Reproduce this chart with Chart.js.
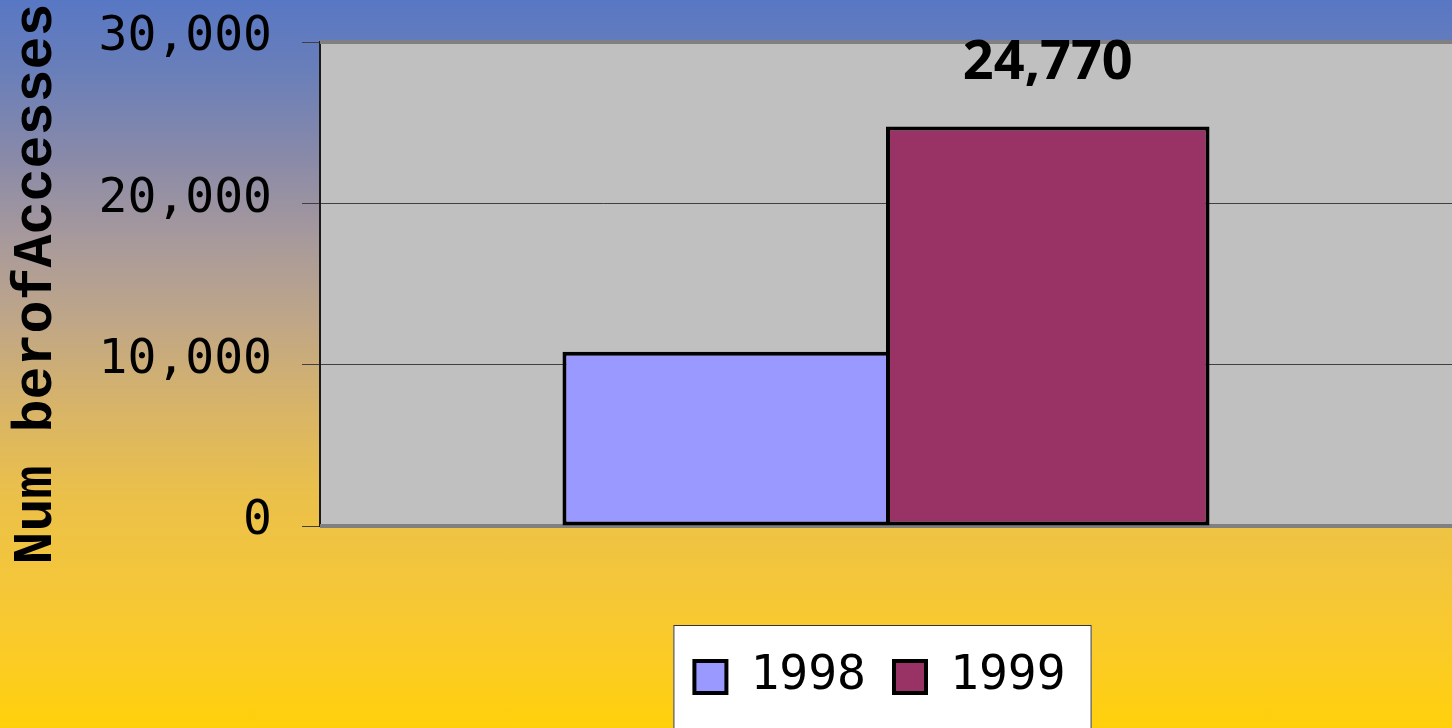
<!DOCTYPE html>
<html>
<head>
<meta charset="utf-8">
<title>Number of Accesses</title>
<script src="https://cdn.jsdelivr.net/npm/chart.js@4.4.1/dist/chart.umd.min.js"></script>
<style>
  html, body {
    margin: 0;
    padding: 0;
    width: 1452px;
    height: 728px;
    overflow: hidden;
  }
  body {
    background: linear-gradient(to bottom,
      #5877c4 0%, #6a7fb9 10%, #8a8aa8 22%, #a89a9c 33%,
      #bfa688 44%, #d8b468 56%, #ebc04a 68%, #f4c63a 80%,
      #fbcb26 90%, #ffd00a 100%);
  }
  #wrap { position: relative; width: 1452px; height: 728px; }
</style>
</head>
<body>
<div id="wrap"><canvas id="chart"></canvas></div>
<script>
// Values
const categories = ["Accesses"];
const seriesNames = ["1998", "1999"];
const accesses1998 = [10800];
const accesses1999 = [24770];
const yTicks = [0, 10000, 20000, 30000];

const fmt = (v) => new Intl.NumberFormat("en-US").format(v);

// plot background, legend box, frame lines and the value label
const chartDecor = {
  id: "chartDecor",
  afterUpdate(chart) {
    // nudge the legend a little left, like the original
    const legend = chart.legend;
    const shift = 6;
    legend.left -= shift;
    legend.right -= shift;
    (legend.legendHitBoxes || []).forEach((hb) => {
      hb.left -= shift;
    });
  },
  beforeDraw(chart) {
    const { ctx, chartArea: a, legend } = chart;
    ctx.save();
    ctx.fillStyle = "#c0c0c0";
    ctx.fillRect(a.left, a.top, a.right - a.left, a.bottom - a.top);

    const boxes = legend.legendHitBoxes;
    if (boxes && boxes.length) {
      const first = boxes[0];
      const last = boxes[boxes.length - 1];
      const x0 = first.left - 21;
      const x1 = last.left + last.width + 26;
      ctx.fillStyle = "#ffffff";
      ctx.fillRect(x0, legend.top, x1 - x0, chart.height - legend.top + 5);
      ctx.strokeStyle = "#333333";
      ctx.lineWidth = 1;
      ctx.strokeRect(x0 + 0.5, legend.top + 0.5, x1 - x0 - 1, chart.height - legend.top + 10);
    }
    ctx.restore();
  },
  beforeDatasetsDraw(chart) {
    const { ctx, chartArea: a } = chart;
    ctx.save();
    ctx.fillStyle = "#808080";
    ctx.fillRect(a.left, a.top - 2, a.right - a.left, 4);
    ctx.fillRect(a.left, a.bottom - 2, a.right - a.left, 4);
    ctx.restore();
  },
  afterDatasetsDraw(chart) {
    const { ctx } = chart;
    chart.data.datasets.forEach((ds, i) => {
      if (!ds.showValue) return;
      chart.getDatasetMeta(i).data.forEach((bar, j) => {
        ctx.save();
        ctx.font = "bold 54px 'Open Sans'";
        ctx.fillStyle = "#000000";
        ctx.textAlign = "center";
        ctx.textBaseline = "alphabetic";
        ctx.fillText(fmt(ds.data[j]), bar.x, bar.y - 47);
        ctx.restore();
      });
    });
  },
};

new Chart(document.getElementById("chart"), {
  type: "bar",
  data: {
    labels: categories,
    datasets: [
      {
        label: seriesNames[0],
        data: accesses1998,
        backgroundColor: "#9999ff",
        borderColor: "#000000",
        // shared edge with the next bar is drawn once
        borderWidth: { top: 4, left: 4, bottom: 4, right: 0 },
        borderSkipped: false,
      },
      {
        label: seriesNames[1],
        data: accesses1999,
        backgroundColor: "#993366",
        borderColor: "#000000",
        borderWidth: 4,
        borderSkipped: false,
        showValue: true,
      },
    ],
  },
  options: {
    responsive: true,
    maintainAspectRatio: false,
    animation: false,
    datasets: {
      bar: { categoryPercentage: 0.5716, barPercentage: 1 },
    },
    layout: { padding: { top: 42, right: 0, bottom: 17, left: 0 } },
    plugins: {
      tooltip: { enabled: false },
      legend: {
        position: "bottom",
        fullSize: false,
        labels: {
          color: "#000000",
          font: { family: "'DejaVu Sans Mono'", size: 48 },
          boxWidth: 32,
          boxHeight: 32,
          padding: 28,
          generateLabels: (chart) =>
            Chart.defaults.plugins.legend.labels
              .generateLabels(chart)
              .map((item) => ({ ...item, lineWidth: 4 })),
        },
      },
    },
    scales: {
      x: {
        ticks: { display: false },
        grid: { display: false },
        border: { display: false },
        afterFit: (scale) => {
          scale.height = 99;
        },
      },
      y: {
        min: yTicks[0],
        max: yTicks[yTicks.length - 1],
        afterBuildTicks: (scale) => {
          scale.ticks = yTicks.map((v) => ({ value: v }));
        },
        afterFit: (scale) => {
          scale.width = 320;
          scale.paddingTop = 0;
          scale.paddingBottom = 0;
        },
        ticks: {
          color: "#000000",
          padding: 30,
          labelOffset: -4,
          font: { family: "'DejaVu Sans Mono'", size: 48 },
          callback: (value) => fmt(value),
        },
        grid: {
          color: "#404040",
          lineWidth: 1,
          tickLength: 18,
        },
        border: { color: "#1a1a1a", width: 2 },
        title: {
          display: true,
          text: "Num berofAccesses",
          color: "#000000",
          font: { family: "'Liberation Mono'", size: 55, weight: "bold" },
          padding: { top: 4, bottom: 0 },
        },
      },
    },
  },
  plugins: [chartDecor],
});
</script>
</body>
</html>
